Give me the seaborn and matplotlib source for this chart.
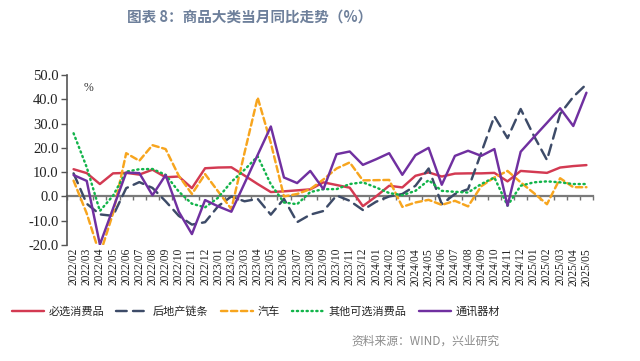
import numpy as np
import pandas as pd
import seaborn as sns
import matplotlib
matplotlib.use("Agg")
import matplotlib.pyplot as plt

# months 2022/02 .. 2025/05
months = [f"{y}/{m:02d}" for y in (2022, 2023, 2024, 2025) for m in range(1, 13)]
months = months[months.index("2022/02"):months.index("2025/05") + 1]

series_names = ["必选消费品", "后地产链条", "汽车", "其他可选消费品", "通讯器材"]

bixuan = [11.2, 9.6, 5.1, 9.5, 9.7, 9.0, 11.0, 7.9, 8.2, 3.4,
          11.6, 11.9, 12.0, 8.6, 5.1, 1.8, 2.1, 2.5, 2.9, 5.8,
          4.7, 3.6, -4.0, 0.0, 4.4, 3.7, 8.5, 9.9, 8.2, 9.4,
          9.5, 9.5, 9.7, 6.2, 10.5, 10.1, 9.7, 11.9, 12.5, 12.9]
dichan = [9.5, -3.0, -7.4, -8.0, 3.4, 5.9, 3.5, -2.0, -8.0, -11.6,
          -10.6, -4.0, 0.0, -2.0, -1.0, -7.5, -1.0, -10.6, -7.5, -6.0,
          0.4, -1.8, -5.6, -2.2, 0.0, 1.0, 4.4, 11.5, -3.2, 1.0,
          3.0, 18.0, 33.0, 24.0, 36.0, 25.0, 15.0, 34.0, 41.0, 46.2]
qiche = [6.5, -7.0, -24.0, -7.0, 17.8, 14.7, 21.1, 19.5, 8.5, 1.0,
         9.2, 2.0, -5.2, 18.0, 40.7, 22.0, 0.0, 1.0, 3.0, 7.0,
         11.5, 14.0, 6.6, 6.7, 6.8, -4.3, -2.5, -1.4, -3.5, -1.8,
         -4.1, 4.2, 7.8, 10.5, 5.8, 1.4, -3.2, 7.5, 3.8, 3.8]
qita = [26.0, 12.0, -6.0, 0.3, 10.2, 11.2, 11.3, 8.9, 2.0, -3.0,
        -4.5, -0.5, 6.0, 11.0, 16.5, 5.0, -2.5, -3.2, 1.8, 3.0,
        3.0, 5.1, 5.8, 3.7, 1.4, 0.5, 2.3, 6.7, 2.3, 1.9,
        1.6, 5.1, 7.8, -3.8, 4.4, 5.8, 6.2, 5.8, 5.1, 5.1]
tongxun = [8.8, 6.4, -19.8, -5.0, 9.8, 9.6, 0.5, 8.8, -6.3, -15.5,
           -1.5, -4.1, -6.3, 5.4, 17.1, 28.8, 7.8, 5.5, 10.5, 3.0,
           17.4, 18.5, 13.0, 15.3, 17.8, 8.9, 17.0, 20.0, 4.8, 16.7,
           18.8, 16.7, 19.5, -3.8, 18.4, 24.4, 30.3, 36.3, 29.0, 42.7]

colors = {"必选消费品": "#d33a52", "后地产链条": "#3d4b68", "汽车": "#f7a51e",
          "其他可选消费品": "#12b44a", "通讯器材": "#7030a0"}
dashes = {"必选消费品": "", "后地产链条": (4.4, 2.6), "汽车": (2.6, 1.5),
          "其他可选消费品": (0.5, 1.5), "通讯器材": ""}

df = pd.concat([
    pd.DataFrame({"pos": range(len(months)), "value": vals, "series": name})
    for name, vals in zip(series_names, [bixuan, dichan, qiche, qita, tongxun])
])

sns.set_style("white")
plt.rcParams["font.family"] = ["Noto Sans CJK SC", "DejaVu Sans"]

fig = plt.figure(figsize=(6.4, 3.61), dpi=100)
ax = fig.add_axes([67 / 640, 1 - 245 / 361, (593 - 67) / 640, 170 / 361])

sns.lineplot(data=df, x="pos", y="value", hue="series", style="series",
             hue_order=series_names, style_order=series_names,
             palette=colors, dashes=dashes, linewidth=1.75, legend=False,
             sort=False, ax=ax)
for ln in ax.get_lines():
    ln.set_dash_capstyle("round")

ax.set_xlim(-0.5, len(months) - 0.5)
ax.set_ylim(-20, 50)
ax.set_yticks(np.arange(-20, 51, 10))
ax.set_yticklabels([f"{v:.1f}" for v in np.arange(-20, 51, 10)],
                   family="Liberation Serif", fontsize=10.5, color="#222222")
ax.set_xticks(range(len(months)))
ax.set_xticklabels(months, rotation=90, family="Liberation Serif",
                   fontsize=8.3, color="#222222")
ax.tick_params(axis="x", length=0, pad=2)
ax.tick_params(axis="y", length=4, width=1, color="#555555", direction="out", pad=2, left=True)
ax.set_xlabel("")
ax.set_ylabel("")
for s in ["top", "right", "bottom"]:
    ax.spines[s].set_visible(False)
ax.spines["left"].set_color("#555555")
ax.spines["left"].set_linewidth(1.2)

# zero line with category ticks
sec = ax.secondary_xaxis(2 / 7)
sec.set_xticks(np.arange(-0.5, len(months), 1))
sec.tick_params(axis="x", length=3, width=1, color="#707070", direction="out",
                labelbottom=False, labeltop=False)
sec.spines["bottom"].set_color("#7a7a7a")
sec.spines["bottom"].set_linewidth(1.6)

ax.text(0.032, 0.96, "%", transform=ax.transAxes, fontsize=8.5,
        color="#333333", family="Liberation Serif", va="top")

handles = ax.get_lines()[:5]
fig.legend(handles, series_names, loc="center", bbox_to_anchor=(0.40, 0.137),
           ncol=5, frameon=False, fontsize=8, handlelength=2.9,
           columnspacing=1.1, handletextpad=0.4)

fig.text(0.39, 0.955, "图表 8：商品大类当月同比走势（%）", ha="center", va="center",
         fontsize=10.5, fontweight="bold", color="#6e809b")
fig.text(0.78, 0.055, "资料来源：WIND，兴业研究", ha="right", va="center",
         fontsize=8.5, color="#8c8c8c")

fig.savefig("out.png", dpi=100)
